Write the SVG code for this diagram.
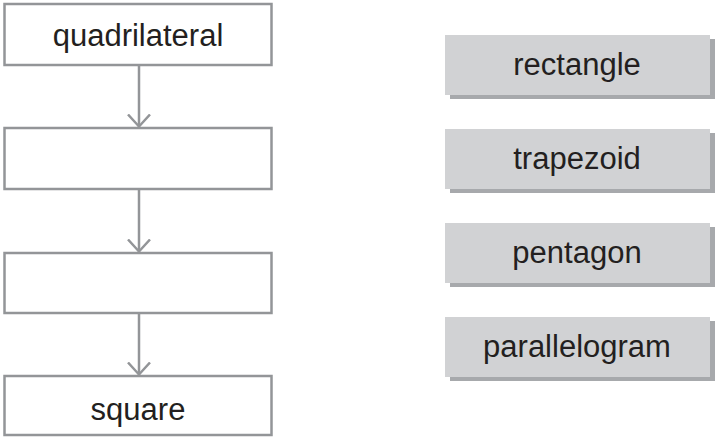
<svg xmlns="http://www.w3.org/2000/svg" width="715" height="438" viewBox="0 0 715 438">
  <style>
    .flow { fill: #ffffff; stroke: #939598; stroke-width: 2.5; }
    .card { fill: #d1d2d4; }
    .shadow { fill: #a7a9ac; }
    .label { font-family: "Liberation Sans", Arial, sans-serif; font-size: 31px; fill: #231f20; text-anchor: middle; }
    .link { stroke: #939598; stroke-width: 2.5; fill: none; }
  </style>
  <defs>
    <!-- open V head, drawn pointing along +x so orient="auto" turns it to the line -->
    <marker id="vhead" markerUnits="userSpaceOnUse" markerWidth="16" markerHeight="26" refX="13" refY="12" orient="auto" viewBox="0 0 16 24">
      <path d="M1 1 L13 12 L1 23" fill="none" stroke="#939598" stroke-width="2.5"/>
    </marker>
  </defs>

  <rect width="715" height="438" fill="#ffffff"/>

  <!-- flow chain on the left -->
  <g id="node-quadrilateral">
    <rect class="flow" x="4.5" y="4" width="267" height="61"/>
    <text class="label" x="138" y="46">quadrilateral</text>
  </g>
  <g id="node-blank-1">
    <rect class="flow" x="4.5" y="128" width="267" height="61"/>
  </g>
  <g id="node-blank-2">
    <rect class="flow" x="4.5" y="253" width="267" height="60"/>
  </g>
  <g id="node-square">
    <rect class="flow" x="4.5" y="376" width="267" height="59"/>
    <text class="label" x="138" y="420">square</text>
  </g>

  <g id="connectors">
    <line class="link" x1="139" y1="65" x2="139" y2="126.5" marker-end="url(#vhead)"/>
    <line class="link" x1="139" y1="189" x2="139" y2="251.5" marker-end="url(#vhead)"/>
    <line class="link" x1="139" y1="313" x2="139" y2="374.5" marker-end="url(#vhead)"/>
  </g>

  <!-- shaded word cards on the right -->
  <g id="card-rectangle">
    <rect class="shadow" x="450" y="39" width="265" height="60"/>
    <rect class="card" x="445" y="35" width="265" height="60"/>
    <text class="label" x="577" y="75">rectangle</text>
  </g>
  <g id="card-trapezoid">
    <rect class="shadow" x="450" y="133" width="265" height="60"/>
    <rect class="card" x="445" y="129" width="265" height="60"/>
    <text class="label" x="577" y="169">trapezoid</text>
  </g>
  <g id="card-pentagon">
    <rect class="shadow" x="450" y="227" width="265" height="60"/>
    <rect class="card" x="445" y="223" width="265" height="60"/>
    <text class="label" x="577" y="263">pentagon</text>
  </g>
  <g id="card-parallelogram">
    <rect class="shadow" x="450" y="321" width="265" height="60"/>
    <rect class="card" x="445" y="317" width="265" height="60"/>
    <text class="label" x="577" y="357">parallelogram</text>
  </g>
</svg>
